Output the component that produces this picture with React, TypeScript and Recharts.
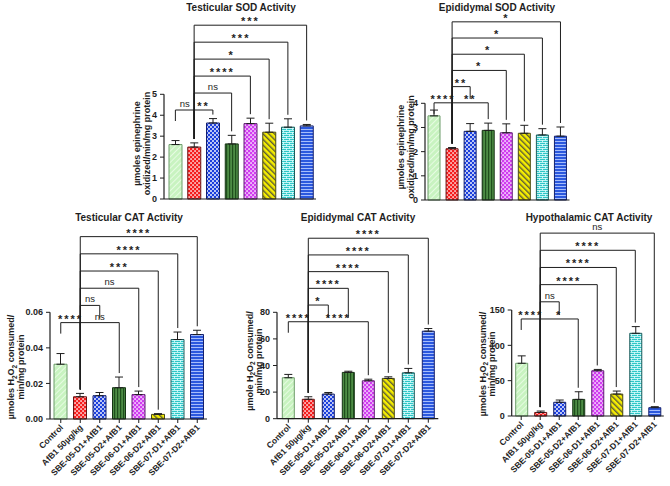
import React from 'react'
import { BarChart, Bar, XAxis, YAxis, Cell, ErrorBar, ReferenceLine } from 'recharts'

const FONT = "'Liberation Sans', Arial, Helvetica, sans-serif"
const INK = '#1e1e1e'

const groups = [
  'Control', 'AfB1 50µg/kg', 'SBE-05-D1+AfB1', 'SBE-05-D2+AfB1',
  'SBE-06-D1+AfB1', 'SBE-06-D2+AfB1', 'SBE-07-D1+AfB1', 'SBE-07-D2+AfB1',
]

// mean values and upper error (SEM) per group
const testSOD = [2.6, 2.48, 3.63, 2.63, 3.6, 3.19, 3.43, 3.49]
const testSODErr = [0.19, 0.2, 0.21, 0.41, 0.26, 0.43, 0.4, 0.07]
const epiSOD = [3.48, 2.12, 2.84, 2.88, 2.78, 2.76, 2.69, 2.64]
const epiSODErr = [0.24, 0.05, 0.32, 0.3, 0.37, 0.33, 0.26, 0.38]
const testCAT = [0.0308, 0.0125, 0.0131, 0.0176, 0.0137, 0.0026, 0.0447, 0.0475]
const testCATErr = [0.006, 0.0019, 0.0018, 0.006, 0.002, 0.0004, 0.0042, 0.0024]
const epiCAT = [30.8, 14.6, 18.5, 34.8, 28.5, 30.3, 34.5, 65.8]
const epiCATErr = [2.5, 1.9, 1.2, 0.9, 1.2, 1.2, 3.3, 2.0]
const hypoCAT = [74.6, 5.0, 19.4, 23.5, 64.0, 31.0, 117, 11.8]
const hypoCATErr = [10.5, 2.0, 3.2, 10.8, 1.9, 4.3, 9.5, 1.4]

const ticksTestSOD = [0, 1, 2, 3, 4, 5]
const ticksEpiSOD = [0, 1, 2, 3, 4]
const ticksTestCAT = [0, 0.02, 0.04, 0.06]
const ticksEpiCAT = [0, 20, 40, 60, 80]
const ticksHypoCAT = [0, 50, 100, 150]

// comparisons: [from, to, label, stack level]
type Sig = [number, number, string, number]
const sigTestSOD: Sig[] = [[0, 1, 'ns', 0], [1, 2, '**', 0], [1, 3, 'ns', 1], [1, 4, '****', 2], [1, 5, '*', 3], [1, 6, '***', 4], [1, 7, '***', 5]]
const sigEpiSOD: Sig[] = [[0, 1, '****', 0], [1, 2, '**', 1], [1, 3, '**', 0], [1, 4, '*', 2], [1, 5, '*', 3], [1, 6, '*', 4], [1, 7, '*', 5]]
const sigTestCAT: Sig[] = [[0, 1, '****', 0], [1, 2, 'ns', 1], [1, 3, 'ns', 0], [1, 4, 'ns', 2], [1, 5, '***', 3], [1, 6, '****', 4], [1, 7, '****', 5]]
const sigEpiCAT: Sig[] = [[0, 1, '****', 0], [1, 2, '*', 1], [1, 3, '****', 2], [1, 4, '****', 0], [1, 5, '****', 3], [1, 6, '****', 4], [1, 7, '****', 5]]
const sigHypoCAT: Sig[] = [[0, 1, '****', 0], [1, 2, 'ns', 1], [1, 3, '*', 0], [1, 4, '****', 2], [1, 5, '****', 3], [1, 6, '****', 4], [1, 7, 'ns', 5]]

const barStrokes = ['#6d9c6a', '#6a1414', '#14206e', '#163414', '#5e1a72', '#4a4a10', '#1c5a5a', '#14206e']

const h2o2 = (prefix: string) => (
  <>
    {prefix} H<tspan dy={2.5} fontSize={6.5}>2</tspan><tspan dy={-2.5}>O</tspan>
    <tspan dy={2.5} fontSize={6.5}>2</tspan><tspan dy={-2.5}> consumed/</tspan>
  </>
)

interface Panel {
  title: string
  titleX: number
  titleY: number
  values: number[]
  errors: number[]
  ticks: number[]
  sig: Sig[]
  sigBase: number
  sigStep: number
  yLines: React.ReactNode[]
  yTitleX: number[]
  yTitleY: number
  left: number
  top: number
  width: number
  height: number
  plotLeft: number
  plotRight: number
  plotTop: number
  plotBottom: number
  padLeft: number
  barSize: number
  showX: boolean
  fmt?: (v: number) => string
}

const panels: Panel[] = [
  {
    title: 'Testicular SOD Activity', titleX: 241, titleY: 11.5,
    values: testSOD, errors: testSODErr, ticks: ticksTestSOD, sig: sigTestSOD, sigBase: 4.25, sigStep: 0.81,
    yLines: ['µmoles epinephrine', 'oxidized/min/mg protein'], yTitleX: [137.2, 146.9], yTitleY: 143.5,
    left: 100, top: 0, width: 230, height: 205,
    plotLeft: 164, plotRight: 316, plotTop: 94.3, plotBottom: 199, padLeft: 2, barSize: 13, showX: false,
  },
  {
    title: 'Epididymal SOD Activity', titleX: 497, titleY: 11.5,
    values: epiSOD, errors: epiSODErr, ticks: ticksEpiSOD, sig: sigEpiSOD, sigBase: 4.02, sigStep: 0.67,
    yLines: ['µmoles epinephrine', 'oxidized/min/mg protein'], yTitleX: [401.2, 411], yTitleY: 147,
    left: 380, top: 0, width: 200, height: 206,
    plotLeft: 425, plotRight: 569.5, plotTop: 103.3, plotBottom: 200, padLeft: 0, barSize: 12, showX: false,
  },
  {
    title: 'Testicular CAT Activity', titleX: 129, titleY: 221,
    values: testCAT, errors: testCATErr, ticks: ticksTestCAT, sig: sigTestCAT, sigBase: 0.0542, sigStep: 0.00967,
    yLines: [h2o2('µmoles'), 'min/mg protein'], yTitleX: [11.2, 20.9], yTitleY: 367,
    left: 0, top: 200, width: 225, height: 286,
    plotLeft: 50, plotRight: 207, plotTop: 312.3, plotBottom: 419, padLeft: 1, barSize: 13, showX: true,
    fmt: (v) => v.toFixed(2),
  },
  {
    title: 'Epididymal CAT Activity', titleX: 358, titleY: 221,
    values: epiCAT, errors: epiCATErr, ticks: ticksEpiCAT, sig: sigEpiCAT, sigBase: 72.9, sigStep: 12.56,
    yLines: [h2o2('µmole'), 'min/mg protein'], yTitleX: [249.5, 258.8], yTitleY: 361,
    left: 230, top: 200, width: 220, height: 286,
    plotLeft: 277, plotRight: 438.3, plotTop: 312.3, plotBottom: 418.7, padLeft: 1.3, barSize: 12, showX: true,
  },
  {
    title: 'Hypothalamic CAT Activity', titleX: 589, titleY: 221,
    values: hypoCAT, errors: hypoCATErr, ticks: ticksHypoCAT, sig: sigHypoCAT, sigBase: 137.3, sigStep: 24.3,
    yLines: [h2o2('µmoles'), 'min/mg protein'], yTitleX: [482.8, 492.2], yTitleY: 364,
    left: 460, top: 200, width: 210, height: 286,
    plotLeft: 511.7, plotRight: 663.8, plotTop: 310, plotBottom: 416, padLeft: 0, barSize: 12, showX: true,
  },
]

function Patterns() {
  return (
    <svg width={0} height={0} style={{ position: 'absolute' }}>
      <defs>
        <pattern id="pat0" width={4} height={4} patternUnits="userSpaceOnUse" patternTransform="rotate(45)">
          <rect width={4} height={4} fill="#c8f3c0" />
          <rect width={1} height={4} fill="#e6fbe2" />
        </pattern>
        <pattern id="pat1" width={4} height={4} patternUnits="userSpaceOnUse">
          <rect width={4} height={4} fill="#f51c1c" />
          <rect x={0.3} y={0.3} width={1.5} height={1.5} fill="#fff" />
          <rect x={2.3} y={2.3} width={1.5} height={1.5} fill="#fff" />
        </pattern>
        <pattern id="pat2" width={4} height={4} patternUnits="userSpaceOnUse">
          <rect width={4} height={4} fill="#1c3fdc" />
          <circle cx={1} cy={1} r={0.95} fill="#fff" />
          <circle cx={3} cy={3} r={0.95} fill="#fff" />
        </pattern>
        <pattern id="pat3" width={3} height={3} patternUnits="userSpaceOnUse">
          <rect width={3} height={3} fill="#4d8c45" />
          <rect width={1.2} height={3} fill="#1f4f1c" />
        </pattern>
        <pattern id="pat4" width={4} height={4} patternUnits="userSpaceOnUse">
          <rect width={4} height={4} fill="#d03cf0" />
          <rect x={0.3} y={0.3} width={1.5} height={1.5} fill="#fff" />
          <rect x={2.3} y={2.3} width={1.5} height={1.5} fill="#fff" />
        </pattern>
        <pattern id="pat5" width={4} height={4} patternUnits="userSpaceOnUse" patternTransform="rotate(-45)">
          <rect width={4} height={4} fill="#f6ee00" />
          <rect width={1.4} height={4} fill="#5a5a3a" />
        </pattern>
        <pattern id="pat6" width={6} height={4} patternUnits="userSpaceOnUse">
          <rect width={6} height={4} fill="#2ec6c6" />
          <rect width={6} height={0.8} fill="#e0ffff" />
          <rect y={2} width={6} height={0.8} fill="#e0ffff" />
          <rect width={0.8} height={2} fill="#e0ffff" />
          <rect x={3} y={2} width={0.8} height={2} fill="#e0ffff" />
        </pattern>
        <pattern id="pat7" width={4} height={3} patternUnits="userSpaceOnUse">
          <rect width={4} height={3} fill="#2b58de" />
          <rect width={4} height={0.9} fill="#b4c8ff" />
        </pattern>
      </defs>
    </svg>
  )
}

const RotTick = ({ x, y, payload }: any) => {
  const ax = x + 3
  const ay = y + 3
  return (
    <text x={ax} y={ay} transform={`rotate(-45 ${ax} ${ay})`} textAnchor="end"
      fontSize={8.5} fontWeight={700} fill={INK} fontFamily={FONT}>
      {payload.value}
    </text>
  )
}

function brackets(p: Panel) {
  const max = p.ticks[p.ticks.length - 1]
  const ppu = (p.plotBottom - p.plotTop) / max
  const gap = 4 / ppu
  const ctrlLeg = 11 / ppu
  const levelY = (lv: number) => p.sigBase + lv * p.sigStep

  const legEnd = (j: number, y: number) => {
    if (j === 0) return y - ctrlLeg
    let end = p.values[j] + p.errors[j] + gap
    p.sig.forEach(([a, b, , lv]) => {
      const yy = levelY(lv)
      if (yy < y && a < j && j < b) end = Math.max(end, yy + gap)
    })
    return end
  }

  const seg = (key: string, x1: string, y1: number, x2: string, y2: number, label?: any) => (
    <ReferenceLine key={key} segment={[{ x: x1, y: y1 }, { x: x2, y: y2 }]}
      stroke={INK} strokeWidth={1} ifOverflow="visible" label={label} />
  )

  return p.sig.flatMap(([a, b, lab, lv], i) => {
    const y = levelY(lv)
    const star = lab !== 'ns'
    const label = {
      value: lab, position: 'top', offset: star ? 0 : 3, fill: INK,
      fontSize: star ? 11 : 9.5, fontWeight: star ? 700 : 400, fontFamily: FONT,
      letterSpacing: star ? 2 : 0,
    }
    return [
      seg(`h${i}`, groups[a], y, groups[b], y, label),
      seg(`l${i}`, groups[a], y, groups[a], legEnd(a, y)),
      seg(`r${i}`, groups[b], y, groups[b], legEnd(b, y)),
    ]
  })
}

function PanelChart({ p }: { p: Panel }) {
  const rows = groups.map((g, i) => ({ group: g, value: p.values[i], err: [0, p.errors[i]] }))
  const max = p.ticks[p.ticks.length - 1]
  const yAxisWidth = p.plotLeft - p.left
  const xAxisHeight = p.top + p.height - p.plotBottom
  const tx = p.yTitleX.map((v) => v - p.left)
  const ty = p.yTitleY - p.top

  const AxisTitle = () => (
    <g>
      {p.yLines.map((ln, i) => (
        <text key={i} x={tx[i]} y={ty} transform={`rotate(-90 ${tx[i]} ${ty})`}
          textAnchor="middle" dominantBaseline="central" fontSize={9} fontWeight={700}
          fill={INK} fontFamily={FONT}>
          {ln}
        </text>
      ))}
    </g>
  )

  return (
    <div style={{ position: 'absolute', left: p.left, top: p.top }}>
      <BarChart width={p.width} height={p.height} data={rows}
        margin={{ top: p.plotTop - p.top, right: p.left + p.width - p.plotRight, bottom: 0, left: 0 }}>
        <XAxis dataKey="group" interval={0} height={xAxisHeight} tickSize={4}
          padding={{ left: p.padLeft, right: 0 }}
          axisLine={{ stroke: INK, strokeWidth: 1.2 }} tickLine={{ stroke: INK }}
          tick={p.showX ? (props: any) => <RotTick {...props} /> : false} />
        <YAxis type="number" domain={[0, max]} ticks={p.ticks} interval={0} width={yAxisWidth}
          tickSize={4} tickMargin={3} tickFormatter={p.fmt}
          axisLine={{ stroke: INK, strokeWidth: 1.2 }} tickLine={{ stroke: INK }}
          tick={{ fontSize: 9, fontWeight: 700, fill: INK, fontFamily: FONT }}
          label={{ content: AxisTitle }} />
        <Bar dataKey="value" barSize={p.barSize} strokeWidth={1} isAnimationActive={false}>
          {rows.map((r, i) => (
            <Cell key={r.group} fill={`url(#pat${i})`} stroke={barStrokes[i]} />
          ))}
          <ErrorBar dataKey="err" direction="y" width={4} stroke={INK} strokeWidth={1} isAnimationActive={false} />
        </Bar>
        {brackets(p)}
      </BarChart>
    </div>
  )
}

export default function App() {
  return (
    <div style={{ position: 'absolute', left: 0, top: 0, width: 670, height: 486, background: '#fff', fontFamily: FONT, overflow: 'hidden' }}>
      <Patterns />
      {panels.map((p) => <PanelChart key={p.title} p={p} />)}
      {panels.map((p) => (
        <div key={p.title + '-t'} style={{
          position: 'absolute', left: p.titleX - 100, top: p.titleY - 8.5, width: 200,
          textAlign: 'center', fontSize: 10, lineHeight: '10px', fontWeight: 700, color: INK,
        }}>
          {p.title}
        </div>
      ))}
    </div>
  )
}
